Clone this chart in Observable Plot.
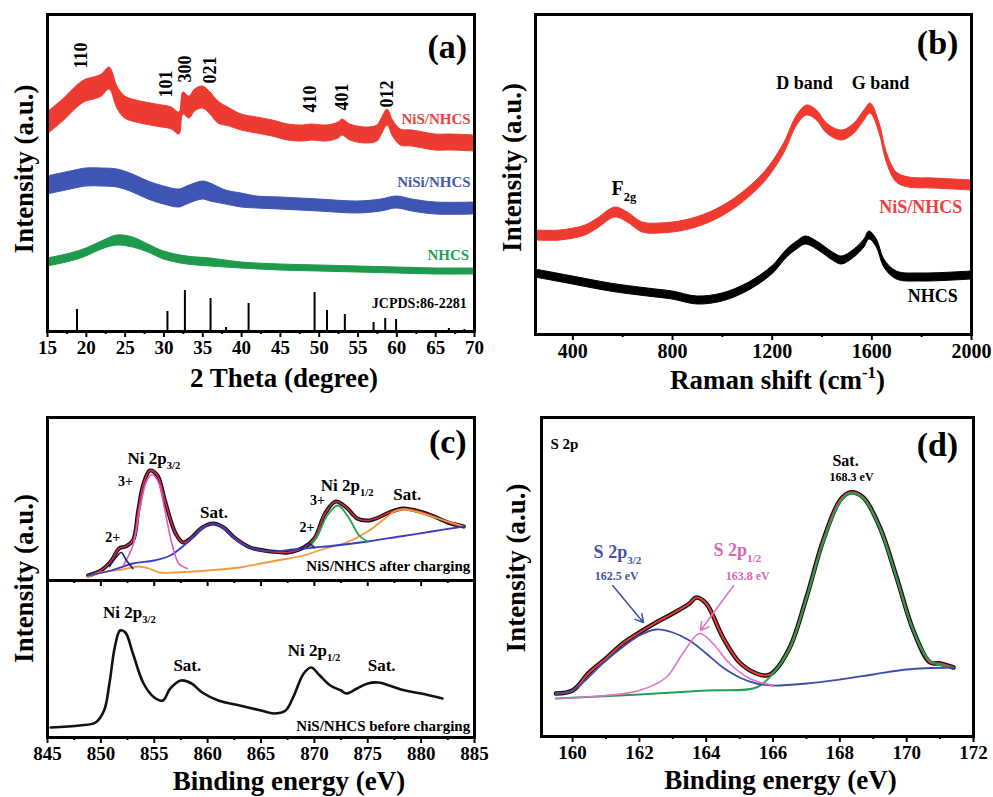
<!DOCTYPE html>
<html><head><meta charset="utf-8">
<script src="https://cdn.jsdelivr.net/npm/d3@7"></script>
<script src="https://cdn.jsdelivr.net/npm/@observablehq/plot@0.6"></script>
<style>
body{margin:0;background:#fff}
#fig{position:relative;width:993px;height:797px;overflow:hidden;background:#fff}
#fig svg{position:absolute}
</style>
</head><body><div id="fig"></div>
<script>
// ---------- (a) XRD ----------
const xrdThetaNiS = [15,17,19,20,21,22,23,24,25,27,29,31,32,32.5,33.3,34,35,36,37,38.5,40,42,44,46,48,49,51,52.5,53,54,56,57.5,58,58.8,59.5,60.5,62,65,67,70];
const xrdNiS      = [208,221,236,241,243,246,253,234,224,219,216,213,208,228,224,231,234,228,219,214,209,206,203,199,198,199,198,201,204,199,196,198,204,214,203,194,193,189,189,188];
const xrdNiSNoise = [11,11,11,11,11,11,11,11,11,11,11,11,11,11,11,11,11,11,11,9,8,8,8,8,8,8,8,8,8,8,8,8,8,8,8,8,8,8,8,8];
const xrdThetaNiSi = [15,18,20,22,24,26,28,30,32,33,35,36,38,40,42,45,50,55,58,60,62,65,70];
const xrdNiSi      = [146,151,154,154,153,148,141,136,133,136,141,139,134,131,129,128,126,124,126,129,126,123,123];
const xrdNiSiNoise = [9,9,9,9,9,9,9,9,9,9,9,9,7,7,6,6,6,6,6,6,6,6,6];
const xrdThetaNHCS = [15,18,20,22,24,26,28,30,33,36,40,45,50,55,60,65,70];
const xrdNHCS      = [69,74,79,86,91,89,83,76,71,69,66,64,63,62,61,60,60];
const xrdNHCSNoise = [4,4,4,4,5,5,4,4,4,4,3,3,3,3,3,3,3];
const stickTheta  = [18.8,30.45,32.7,36.0,38.0,40.9,49.4,51.0,53.3,57.0,58.5,59.9,66.7,68.7];
const stickHeight = [22,20,41,33,4,28,39,21,17,9,13,12,3,2];
const hklLabels = ["110","101","300","021","410","401","012"];
const hklTheta  = [19.4,30.3,32.7,35.9,48.9,53.0,58.75];
const hklY      = [263,234,249,248,219,221,224];

// ---------- (b) Raman ----------
const ramanShiftNiS = [250,350,450,500,570,620,680,750,850,950,1050,1150,1200,1250,1300,1340,1380,1420,1480,1530,1570,1595,1630,1660,1700,1750,1850,2000];
const ramanNiS      = [99,99,104,111,122,117,107,106,109,117,131,152,167,187,214,224,219,206,199,206,219,226,207,177,157,152,151,149];
const ramanShiftNHCS = [250,400,550,700,800,900,1000,1100,1200,1260,1300,1335,1380,1450,1480,1530,1570,1590,1620,1650,1700,1800,2000];
const ramanNHCS      = [61,54,47,42,39,34,37,47,64,81,89,94,89,77,74,81,91,99,91,71,59,57,59];

// ---------- (c) Ni 2p XPS ----------
const niAfterBE = [848.8,850,851,851.7,852.3,853,853.5,854,854.6,855.3,856,857,857.7,858.5,859.5,860.5,861.5,862.5,864,866,867.5,869,870,871,872,873,874,875,876,877,878.3,879.5,881,882.5,884];
const niAfter   = [5,10,20,32,34,40,70,97,110,105,80,47,38,43,53,57,53,43,33,29,28,33,42,67,79,73,62,60,63,68,72,70,65,58,54];
const ni3pPinkBE = [852.1,853,853.7,854.3,854.8,855.4,856,856.7,857.3,858.1];
const ni3pPink   = [15,35,75,100,106,98,70,35,17,12];
const ni2pNavyBE = [850.8,851.5,851.9,852.4,853];
const ni2pNavy   = [14,24,28,20,12];
const niSatBlueBE = [848.8,851,853,855,856.5,858,859.5,860.5,861.5,863,864.5,866,868,870,872,875,878,881,884];
const niSatBlue   = [5,10,17,20,25,37,52,57,52,38,31,29,31,33,35,39,44,49,54];
const ni3pGreenBE = [869.5,870.3,871.2,872.2,873.2,874.2,875];
const ni3pGreen   = [33,45,65,75,63,45,39];
const ni2pNavy2BE = [868.8,869.4,870];
const ni2pNavy2   = [31,37,33];
const niSatOrangeBE = [848.8,850,852,853.5,854.5,855.5,857,860,863,865,867,869,871,873,875,876.5,877.5,878.3,879.5,881,882.5,884];
const niSatOrange   = [4,8,11,14,12,8,8,10,13,17,21,25,32,38,49,61,69,71,69,64,59,54];
const niBeforeBE = [845.3,848,849.5,850.3,850.8,851.3,851.8,852.3,853,854,855,855.8,856.5,857.5,858.5,859.5,861,863,865,866.2,867.3,868,869,869.7,870.5,871.5,872.5,873,874,875,876,877,878.5,880,882];
const niBefore   = [10,12,15,27,54,90,107,105,84,54,40,37,49,57,54,45,37,32,27,24,27,40,64,70,62,52,47,44,49,54,55,52,47,44,39];

// ---------- (d) S 2p XPS ----------
const s2pBE = [159.5,160,160.5,161,161.5,162,162.5,163,163.5,163.7,164,164.5,165,165.5,165.8,166,166.5,167,167.5,168,168.3,168.7,169.2,169.7,170.2,170.7,171,171.4];
const s2p   = [43,46,64,78,93,104,114,123,133,139,133,99,74,63,61,64,89,139,196,236,244,239,209,159,106,74,73,69];
const s2p32BE = [159.5,160,161,162,162.5,163,163.5,164,164.5,165,165.5,166,167,168,169,170,171.4];
const s2p32   = [43,46,76,101,107,104,96,83,69,59,53,51,53,57,62,67,69];
const s2p12BE = [159.5,161,162,162.8,163.3,163.8,164.2,164.7,165.3,166];
const s2p12   = [38,41,46,59,83,103,93,73,58,51];
const sSatBE = [159.5,162,164,165.5,166,166.5,167,167.5,168,168.3,168.7,169.2,169.7,170.2,170.7,171.4];
const sSat   = [38,42,46,49,63,88,138,194,234,243,238,208,158,106,76,69];

// ---------- helpers ----------
const FONT = "'Liberation Serif','Times New Roman',serif";
const fig = document.getElementById("fig");
const rows = (xs, ys) => xs.map((x, i) => ({x, y: ys[i]}));
const band = (xs, ys, ns) => xs.map((x, i) => ({x, lo: ys[i] - ns[i], hi: ys[i] + ns[i]}));
const T = (x, y, text, o = {}) => Plot.text([{x, y, text}], {x: "x", y: "y", text: "text", ...o});
const line = (xs, ys, stroke, w) => Plot.line(rows(xs, ys), {x: "x", y: "y", stroke, strokeWidth: w, curve: "catmull-rom"});
const area = (xs, ys, ns, c) => Plot.areaY(band(xs, ys, ns), {x: "x", y1: "lo", y2: "hi", fill: c, stroke: c, strokeWidth: 1, curve: "catmull-rom"});
const xTitle = (s, dx, dy) => Plot.text([s], {frameAnchor: "bottom", textAnchor: "middle", lineAnchor: "middle", dx, dy, fontSize: 27});
const yTitle = (anchor, dx, dy) => Plot.text(["Intensity (a.u.)"], {frameAnchor: anchor, rotate: -90, textAnchor: "middle", lineAnchor: "middle", dx, dy, fontSize: 27});

function rich(svg) {
  svg.querySelectorAll("text").forEach(t => {
    const s = t.textContent;
    if (!/[_^]\{/.test(s)) return;
    const parts = []; const re = /([_^])\{([^}]*)\}/g; let last = 0, m;
    while ((m = re.exec(s))) {
      if (m.index > last) parts.push({t: s.slice(last, m.index), k: ""});
      parts.push({t: m[2], k: m[1]}); last = re.lastIndex;
    }
    if (last < s.length) parts.push({t: s.slice(last), k: ""});
    t.textContent = "";
    let shift = 0;
    parts.forEach(p => {
      const ts = document.createElementNS("http://www.w3.org/2000/svg", "tspan");
      ts.textContent = p.t;
      const target = p.k === "_" ? 0.32 : p.k === "^" ? -0.42 : 0;
      const size = p.k ? 0.62 : 1;
      const d = target - shift;
      if (d !== 0) ts.setAttribute("dy", (d / size).toFixed(3) + "em");
      if (p.k) ts.setAttribute("font-size", "62%");
      shift = target;
      t.appendChild(ts);
    });
  });
}

function panel({left, top, width, height, m, x, y, marks}) {
  const svg = Plot.plot({
    width, height, marginTop: m[0], marginRight: m[1], marginBottom: m[2], marginLeft: m[3],
    x: {domain: x, label: null}, y: {domain: y, label: null, axis: null},
    style: {fontFamily: FONT, fontWeight: "bold", background: "transparent", overflow: "visible", color: "black"},
    marks
  });
  svg.style.left = left + "px"; svg.style.top = top + "px";
  rich(svg);
  fig.appendChild(svg);
}
const axes = (major, minor, fs, labels = true) => [
  Plot.axisX(major, {tickSize: 6, strokeWidth: 2, tickPadding: 3, fontSize: fs, label: null, tickFormat: labels ? (d => String(d)) : (() => "")}),
  Plot.axisX(minor, {tickSize: 3, strokeWidth: 2, label: null, tickFormat: () => ""})
];
const range = (a, b, s) => d3.range(a, b + s / 2, s);

// (a)
panel({
  left: 0, top: 0, width: 496, height: 400, m: [14, 22, 69, 47], x: [15, 70], y: [0, 317],
  marks: [
    area(xrdThetaNiS, xrdNiS, xrdNiSNoise, "#ee3b32"),
    area(xrdThetaNiSi, xrdNiSi, xrdNiSiNoise, "#3f55b4"),
    area(xrdThetaNHCS, xrdNHCS, xrdNHCSNoise, "#1e9a4c"),
    Plot.ruleX(stickTheta.map((x, i) => ({x, h: stickHeight[i]})), {x: "x", y1: 0, y2: "h", stroke: "black", strokeWidth: 2}),
    Plot.text(hklLabels.map((t, i) => ({t, x: hklTheta[i], y: hklY[i]})), {x: "x", y: "y", text: "t", rotate: -90, textAnchor: "start", fontSize: 18}),
    T(66.5, 284, "(a)", {fontSize: 34}),
    T(69.5, 212, "NiS/NHCS", {textAnchor: "end", fontSize: 15, fill: "#e8423c"}),
    T(69.5, 149, "NiSi/NHCS", {textAnchor: "end", fontSize: 15, fill: "#4657b0"}),
    T(69.3, 76, "NHCS", {textAnchor: "end", fontSize: 15, fill: "#23a055"}),
    T(69.0, 28, "JCPDS:86-2281", {textAnchor: "end", fontSize: 14}),
    ...axes(range(15, 70, 5), range(17.5, 67.5, 5), 19),
    xTitle("2 Theta (degree)", 23, 47),
    yTitle("left", -23, -4),
    Plot.frame({strokeWidth: 3})
  ]
});

// (b)
panel({
  left: 496, top: 0, width: 497, height: 400, m: [14, 22, 66, 39], x: [250, 2000], y: [0, 320],
  marks: [
    area(ramanShiftNiS, ramanNiS, ramanNiS.map(() => 5), "#f03a30"),
    area(ramanShiftNHCS, ramanNHCS, ramanNHCS.map(() => 4), "#000000"),
    T(1864, 291, "(b)", {fontSize: 34}),
    T(1330, 251, "D band", {fontSize: 18}),
    T(1635, 251, "G band", {fontSize: 18}),
    T(555, 146, "F_{2g}", {fontSize: 20, textAnchor: "start"}),
    T(1796, 127, "NiS/NHCS", {fontSize: 18, fill: "#ee4040"}),
    T(1844, 38, "NHCS", {fontSize: 18}),
    ...axes(range(400, 2000, 400), range(600, 1800, 400), 20),
    xTitle("Raman shift (cm^{-1})", 24, 46),
    yTitle("left", -23, -7),
    Plot.frame({strokeWidth: 3})
  ]
});

// (c) upper: after charging
panel({
  left: 0, top: 400, width: 496, height: 190, m: [17, 22, 10, 47], x: [845, 885], y: [0, 163],
  marks: [
    line(niAfterBE, niAfter, "#111111", 4),
    line(niAfterBE, niAfter, "#d42a48", 1.6),
    line(niSatOrangeBE, niSatOrange, "#f59a3c", 1.8),
    line(niSatBlueBE, niSatBlue, "#3a3ac4", 1.8),
    line(ni3pPinkBE, ni3pPink, "#e05ab8", 1.6),
    line(ni2pNavyBE, ni2pNavy, "#1c1c7a", 1.6),
    line(ni3pGreenBE, ni3pGreen, "#1aa64e", 1.8),
    line(ni2pNavy2BE, ni2pNavy2, "#1c1c7a", 1.4),
    T(882.5, 138, "(c)", {fontSize: 34}),
    T(852.5, 122, "Ni 2p_{3/2}", {textAnchor: "start", fontSize: 17}),
    T(852.3, 99, "3+", {fontSize: 14}),
    T(851.1, 43, "2+", {fontSize: 14}),
    T(860.6, 68, "Sat.", {fontSize: 17}),
    T(870.6, 95, "Ni 2p_{1/2}", {textAnchor: "start", fontSize: 17}),
    T(870.3, 80, "3+", {fontSize: 14}),
    T(869.3, 53, "2+", {fontSize: 14}),
    T(878.7, 86, "Sat.", {fontSize: 17}),
    T(884.6, 14, "NiS/NHCS after charging", {textAnchor: "end", fontSize: 15}),
    ...axes(range(845, 885, 5), range(847.5, 882.5, 5), 19, false),
    Plot.frame({strokeWidth: 3})
  ]
});

// (c) lower: before charging
panel({
  left: 0, top: 570, width: 496, height: 227, m: [10, 22, 60, 47], x: [845, 885], y: [0, 157],
  marks: [
    line(niBeforeBE, niBefore, "#111111", 2.6),
    T(850.2, 125, "Ni 2p_{3/2}", {textAnchor: "start", fontSize: 17}),
    T(858.1, 72, "Sat.", {fontSize: 17}),
    T(867.5, 87, "Ni 2p_{1/2}", {textAnchor: "start", fontSize: 17}),
    T(876.3, 72, "Sat.", {fontSize: 17}),
    T(884.6, 11, "NiS/NHCS before charging", {textAnchor: "end", fontSize: 15}),
    ...axes(range(845, 885, 5), range(847.5, 882.5, 5), 19),
    xTitle("Binding energy (eV)", 28, 44),
    yTitle("top-left", -23, -2),
    Plot.frame({strokeWidth: 3})
  ]
});

// (d)
panel({
  left: 496, top: 400, width: 497, height: 397, m: [17, 20, 61, 45], x: [159.07, 172], y: [0, 319],
  marks: [
    line(s2pBE, s2p, "#111111", 4.5),
    line(s2pBE, s2p, "#f03838", 2),
    line(sSatBE, sSat, "#20a050", 2),
    line(s2p32BE, s2p32, "#3d4ea8", 1.8),
    line(s2p12BE, s2p12, "#e070c8", 1.6),
    Plot.arrow([{x1: 161.2, y1: 151, x2: 162.12, y2: 114}], {x1: "x1", y1: "y1", x2: "x2", y2: "y2", stroke: "#3d4ea8", strokeWidth: 1.5, headLength: 9}),
    Plot.arrow([{x1: 164.82, y1: 151, x2: 163.83, y2: 106}], {x1: "x1", y1: "y1", x2: "x2", y2: "y2", stroke: "#e070c8", strokeWidth: 1.5, headLength: 9}),
    T(159.34, 292, "S 2p", {textAnchor: "start", fontSize: 15}),
    T(170.92, 291, "(d)", {fontSize: 34}),
    T(168.17, 276, "Sat.", {fontSize: 16}),
    T(168.35, 259, "168.3 eV", {fontSize: 12}),
    T(160.63, 184, "S 2p_{3/2}", {textAnchor: "start", fontSize: 18, fill: "#4652ac"}),
    T(161.32, 160, "162.5 eV", {fontSize: 12, fill: "#4652ac"}),
    T(164.22, 186, "S 2p_{1/2}", {textAnchor: "start", fontSize: 18, fill: "#d865b8"}),
    T(165.24, 160, "163.8 eV", {fontSize: 12, fill: "#d865b8"}),
    ...axes(range(160, 172, 2), range(161, 171, 2), 19),
    xTitle("Binding energy (eV)", 23, 44),
    yTitle("left", -25, -9),
    Plot.frame({strokeWidth: 3})
  ]
});
</script></body></html>
